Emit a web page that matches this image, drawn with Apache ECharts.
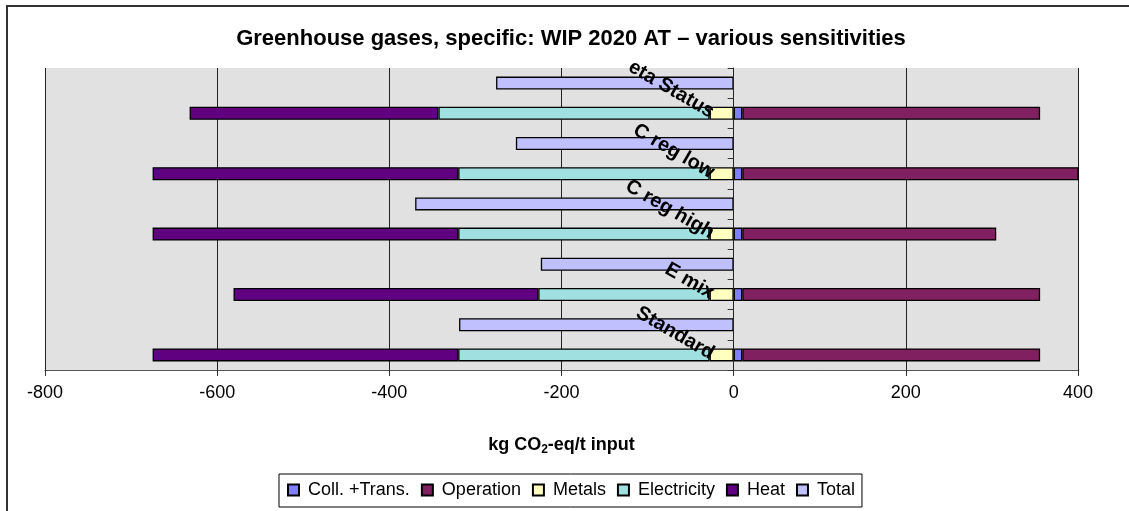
<!DOCTYPE html>
<html>
<head>
<meta charset="utf-8">
<script src="https://cdn.jsdelivr.net/npm/echarts@6/dist/echarts.min.js"></script>
<style>
html,body{margin:0;padding:0;background:#fff;}
#chart{width:1129px;height:511px;}
</style>
</head>
<body>
<div id="chart"></div>
<script>
// Categories bottom-up: each scenario has a stacked row and a "Total" row above it
const categories = ['Standard', '', 'E mix', '', 'C reg high', '', 'C reg low', '', 'eta Status', ''];
const scenarios = ['Standard', 'E mix', 'C reg high', 'C reg low', 'eta Status'];
const collTrans   = [10, 10, 10, 10, 10];
const operation   = [346, 346, 295, 412, 346];
const metals      = [-28, -28, -28, -28, -28];
const electricity = [-292, -199, -292, -292, -315];
const heat        = [-355, -354, -355, -355, -289];
const total       = [-319, -224, -370, -253, -276];
const xTicks = { min: -800, max: 400, interval: 200 };

function stackedRow(vals) {
  const out = [];
  vals.forEach(v => { out.push(v); out.push(null); });
  return out;
}
function totalRow(vals) {
  const out = [];
  vals.forEach(v => { out.push(null); out.push(v); });
  return out;
}

const seriesDefs = [
  { name: 'Coll. +Trans.', color: '#8080ff', data: stackedRow(collTrans) },
  { name: 'Operation', color: '#802060', data: stackedRow(operation) },
  { name: 'Metals', color: '#ffffc0', data: stackedRow(metals) },
  { name: 'Electricity', color: '#a0e0e0', data: stackedRow(electricity) },
  { name: 'Heat', color: '#600080', data: stackedRow(heat) },
  { name: 'Total', color: '#c0c0ff', data: totalRow(total) }
];

const GRID = { left: 45, right: 51, top: 68, bottom: 141 };
const W = 1129;
const plotW = W - GRID.left - GRID.right;
const zeroOffset = plotW * (0 - xTicks.min) / (xTicks.max - xTicks.min);

const chart = echarts.init(document.getElementById('chart'), null, { renderer: 'canvas' });
const FONT = 'Liberation Sans, Arial, sans-serif';

chart.setOption({
  animation: false,
  backgroundColor: '#ffffff',
  title: {
    text: 'Greenhouse gases, specific: WIP 2020 AT \u2013 various sensitivities',
    left: 566, textAlign: 'center', top: 23,
    textStyle: { fontFamily: FONT, fontSize: 22, fontWeight: 'bold', color: '#000' }
  },
  graphic: [{
    type: 'rect', z: 100, silent: true,
    shape: { x: 7, y: 6, width: 1200, height: 600 },
    style: { fill: 'none', stroke: '#333', lineWidth: 2 }
  }],
  legend: {
    left: 279, top: 474,
    padding: [7, 7, 8, 8],
    borderColor: '#000', borderWidth: 1,
    itemWidth: 11, itemHeight: 11, itemGap: 11,
    icon: 'rect',
    textStyle: { fontFamily: FONT, fontSize: 18, color: '#000', padding: [0, 0, 0, 4] },
    data: seriesDefs.map(s => s.name)
  },
  grid: {
    left: GRID.left, right: GRID.right, top: GRID.top, bottom: GRID.bottom,
    outerBoundsMode: 'none', containLabel: false,
    show: true, backgroundColor: '#e1e1e1', borderWidth: 0
  },
  xAxis: {
    type: 'value', min: xTicks.min, max: xTicks.max, interval: xTicks.interval,
    axisLine: { show: true, lineStyle: { color: '#555', width: 1 } },
    axisTick: { show: true, length: 6, lineStyle: { color: '#333' } },
    splitLine: { show: true, lineStyle: { color: '#222', width: 1 } },
    axisLabel: { fontFamily: FONT, fontSize: 18, color: '#000', margin: 14 },
    name: 'kg CO{sub|2}-eq/t input',
    nameLocation: 'middle', nameGap: 64,
    nameTextStyle: {
      fontFamily: FONT, fontSize: 18, fontWeight: 'bold', color: '#000',
      rich: { sub: { fontFamily: FONT, fontSize: 12, fontWeight: 'bold', color: '#000', padding: [10, 0, 0, 0] } }
    }
  },
  yAxis: {
    type: 'category', data: categories, position: 'left', offset: -zeroOffset, z: 10,
    axisLine: { show: true, onZero: false, lineStyle: { color: '#222', width: 1 } },
    axisTick: { show: true, length: 6, lineStyle: { color: '#333' } },
    splitLine: { show: false },
    axisLabel: {
      interval: 0, rotate: -30, margin: 21,
      fontFamily: FONT, fontSize: 20, fontWeight: 'bold', color: '#000'
    }
  },
  series: seriesDefs.map(s => ({
    name: s.name, type: 'bar', stack: 'a', barWidth: 13, clip: true,
    itemStyle: { color: s.color, borderColor: '#000', borderWidth: 1.3 },
    data: s.data
  }))
});
</script>
</body>
</html>
